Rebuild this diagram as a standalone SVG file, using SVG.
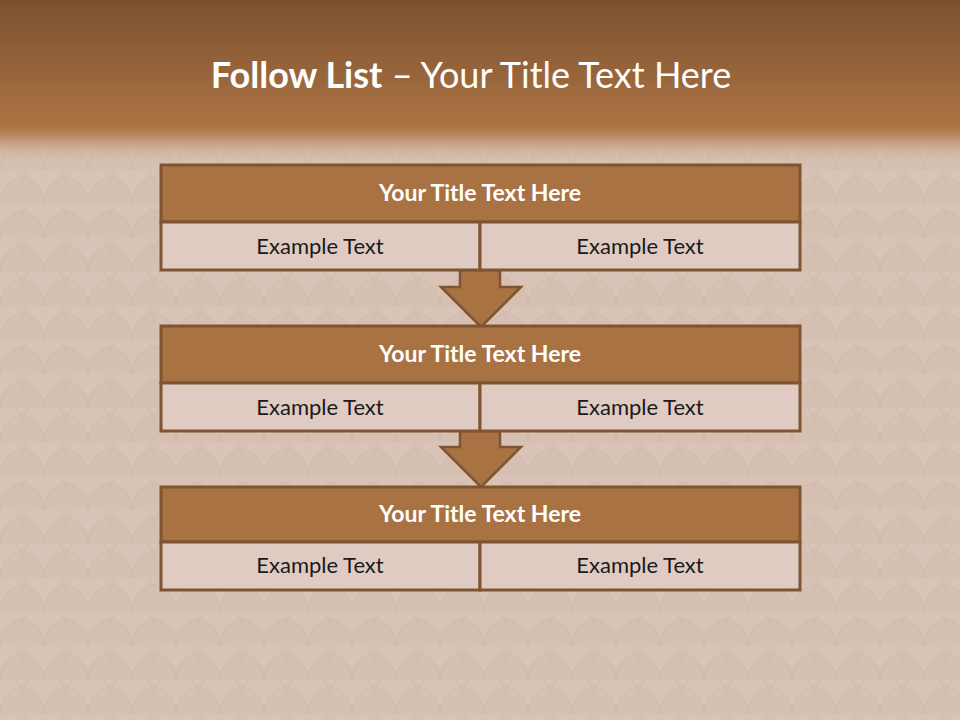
<svg xmlns="http://www.w3.org/2000/svg" width="960" height="720" viewBox="0 0 960 720">
<style>
.hdr{fill:#A97243;stroke:#7E5433;stroke-width:3}
.row{fill:#DFCBC2;stroke:#7E5433;stroke-width:3}
.ht{font-family:Lato,"Open Sans",sans-serif;font-weight:bold;font-size:23px;fill:#FFFFFF;text-anchor:middle}
.rt{font-family:Lato,"Open Sans",sans-serif;font-size:22px;fill:#1A1A1A;text-anchor:middle}
.arr{fill:#A97243;stroke:#7E5433;stroke-width:2.5;stroke-linejoin:miter}
</style>
<defs>
<linearGradient id="top" x1="0" y1="0" x2="0" y2="1">
<stop offset="0" stop-color="#7A5130"/>
<stop offset="0.76" stop-color="#AC7343"/>
<stop offset="0.82" stop-color="#BA8560"/>
<stop offset="1" stop-color="#D6BDAD" stop-opacity="0"/>
</linearGradient>
<pattern id="scales" width="44" height="34" patternUnits="userSpaceOnUse">
<rect width="44" height="34" fill="#D8C2B4"/>
<path d="M0 34 Q0 14 22 6 Q44 14 44 34" fill="#D5BDAE" stroke="#CDB3A2" stroke-width="1"/>
<path d="M-22 17 Q-22 -3 0 -11 Q22 -3 22 17" fill="none" stroke="#CFB6A5" stroke-width="1"/>
<path d="M22 17 Q22 -3 44 -11 Q66 -3 66 17" fill="none" stroke="#CFB6A5" stroke-width="1"/>
</pattern>
</defs>
<rect width="960" height="720" fill="url(#scales)"/>
<rect width="960" height="720" fill="#DCC8BC" opacity="0.3"/>
<rect width="960" height="165" fill="url(#top)"/>
<text x="471" y="88" font-family="Lato,'Open Sans',sans-serif" font-size="36" fill="#FFFFFF" text-anchor="middle"><tspan font-weight="bold">Follow List</tspan>  – Your Title Text Here</text>

<g id="connectors">
<polygon class="arr" points="460,270 500,270 500,287 521,287 481,327 441,287 460,287"/>
<polygon class="arr" points="460,431 500,431 500,447 521,447 481,487 441,447 460,447"/>
</g>

<g id="node1">
<rect class="hdr" x="161" y="165" width="639" height="57"/>
<text class="ht" x="480" y="201">Your Title Text Here</text>
<rect class="row" x="161" y="222" width="319" height="48"/>
<rect class="row" x="480" y="222" width="320" height="48"/>
<text class="rt" x="320" y="254">Example Text</text>
<text class="rt" x="640" y="254">Example Text</text>
</g>
<g id="node2">
<rect class="hdr" x="161" y="326" width="639" height="57"/>
<text class="ht" x="480" y="362">Your Title Text Here</text>
<rect class="row" x="161" y="383" width="319" height="48"/>
<rect class="row" x="480" y="383" width="320" height="48"/>
<text class="rt" x="320" y="415">Example Text</text>
<text class="rt" x="640" y="415">Example Text</text>
</g>
<g id="node3">
<rect class="hdr" x="161" y="487" width="639" height="55"/>
<text class="ht" x="480" y="522">Your Title Text Here</text>
<rect class="row" x="161" y="542" width="319" height="48"/>
<rect class="row" x="480" y="542" width="320" height="48"/>
<text class="rt" x="320" y="573">Example Text</text>
<text class="rt" x="640" y="573">Example Text</text>
</g>
</svg>
